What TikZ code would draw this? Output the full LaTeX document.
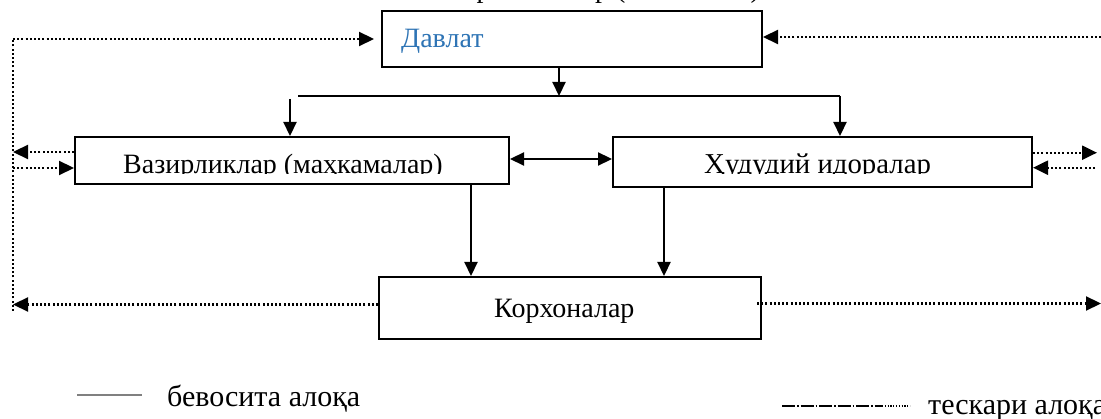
\documentclass[tikz,border=0pt]{standalone}
\usepackage{fontspec}
\setmainfont{Liberation Serif}
\usetikzlibrary{arrows.meta}
\definecolor{dblue}{RGB}{46,116,181}
\definecolor{leggray}{RGB}{128,128,128}
\tikzset{
  box/.style={draw, line width=2pt, rectangle, inner sep=0pt, anchor=north west},
  boxtext/.style={anchor=base west, inner sep=0pt, font=\fontsize{28}{32}\selectfont},
  legtext/.style={anchor=base west, inner sep=0pt, font=\fontsize{30}{34}\selectfont},
  arr/.style={line width=2.2pt, -{Triangle[length=14pt,width=13pt]}},
  arrboth/.style={line width=2.2pt, {Triangle[length=14pt,width=13pt]}-{Triangle[length=14pt,width=13pt]}},
  solidline/.style={line width=2.2pt},
  dotline/.style={line width=2.2pt, dash pattern=on 2pt off 2.2pt},
  dotarr/.style={dotline, -{Triangle[length=15pt,width=14pt]}},
}
\begin{document}
\begin{tikzpicture}[x=1pt,y=-1pt]
\clip (0,0) rectangle (1101,419);
\fill[white] (0,0) rectangle (1101,419);

% clipped title at the top
\node[anchor=base east, inner sep=0pt, font=\fontsize{28}{32}\selectfont] (title) at (760,-2) {Ташкилотлар тизимлар (комплекси)};

% boxes
\node[box, minimum width=380pt, minimum height=56.5pt] (davlat) at (381,10) {};
\node[box, minimum width=434pt, minimum height=47.5pt] (vazir) at (74,136) {};
\node[box, minimum width=419pt, minimum height=50pt] (hudud) at (612,136) {};
\node[box, minimum width=382pt, minimum height=62.5pt] (korx) at (378,276) {};

% box texts
\node[boxtext, text=dblue] (tdavlat) at (401,48) {Давлат};
\begin{scope}
  \clip (vazir.north west) rectangle (508,173.5);
  \node[boxtext] (tvazir) at (123,174) {Вазирликлар (маҳкамалар)};
\end{scope}
\begin{scope}
  \clip (hudud.north west) rectangle (1031,173.5);
  \node[boxtext, font=\fontsize{28.8}{32}\selectfont] (thudud) at (704,174) {Ҳудудий идоралар};
\end{scope}
\node[boxtext] (tkorx) at (494,318) {Корхоналар};

% bus
\coordinate (busL) at (298,96);
\coordinate (busM) at (559,96);
\coordinate (busR) at (840,96);
\coordinate (dropL) at (290,99);
\draw[solidline] (busL) -- (busR);
\draw[arr] (davlat.south -| busM) -- (busM);
\draw[arr] (dropL) -- (dropL |- vazir.north);
\draw[arr] (busR) -- (busR |- hudud.north);

% between ministries and regional bodies
\coordinate (mid) at (560,159);
\draw[arrboth] (vazir.east |- mid) -- (hudud.west |- mid);

% down to enterprises
\coordinate (v1) at (471,200);
\coordinate (h1) at (664,200);
\draw[arr] (vazir.south -| v1) -- (korx.north -| v1);
\draw[arr] (hudud.south -| h1) -- (korx.north -| h1);

% feedback (dotted) left
\coordinate (Ltop) at (13,39);
\coordinate (Lbot) at (13,311);
\coordinate (L1) at (13,152);
\coordinate (L2) at (13,168);
\coordinate (L3) at (13,304.5);
\draw[dotline] (Lbot) -- (Ltop);
\draw[dotarr, shorten >=7pt] (Ltop) -- (Ltop -| davlat.west);
\draw[dotarr] (L1 -| vazir.west) -- (L1);
\draw[dotarr] (L2) -- (L2 -| vazir.west);
\draw[dotarr] (L3 -| korx.west) -- (L3);

% feedback (dotted) right
\coordinate (Rtop) at (1101,37);
\coordinate (R1) at (1097,152.7);
\coordinate (R2) at (1095,167.7);
\coordinate (R3) at (1101,303.5);
\draw[dotarr] (Rtop) -- (Rtop -| davlat.east);
\draw[dotarr] (R1 -| hudud.east) -- (R1);
\draw[dotarr] (R2) -- (R2 -| hudud.east);
\draw[dotarr] ([xshift=-5pt]korx.east |- R3) -- (R3);

% legend
\coordinate (lg1a) at (77,395);
\coordinate (lg1b) at (142,395);
\draw[leggray, line width=1.2pt] (lg1a) -- (lg1b);
\node[legtext] (leg1) at (167,406.5) {бевосита алоқа};

\coordinate (lg2a) at (782,406);
\coordinate (lg2b) at (882,406);
\coordinate (lg2c) at (910,406);
\draw[line width=2.2pt, dash pattern=on 13pt off 2pt on 1.5pt off 2pt] (lg2a) -- (lg2b);
\draw[line width=1.2pt, dash pattern=on 1.2pt off 1.6pt] (lg2b) -- (lg2c);
\node[legtext] (leg2) at (928,415) {тескари алоқа};
\end{tikzpicture}
\end{document}
